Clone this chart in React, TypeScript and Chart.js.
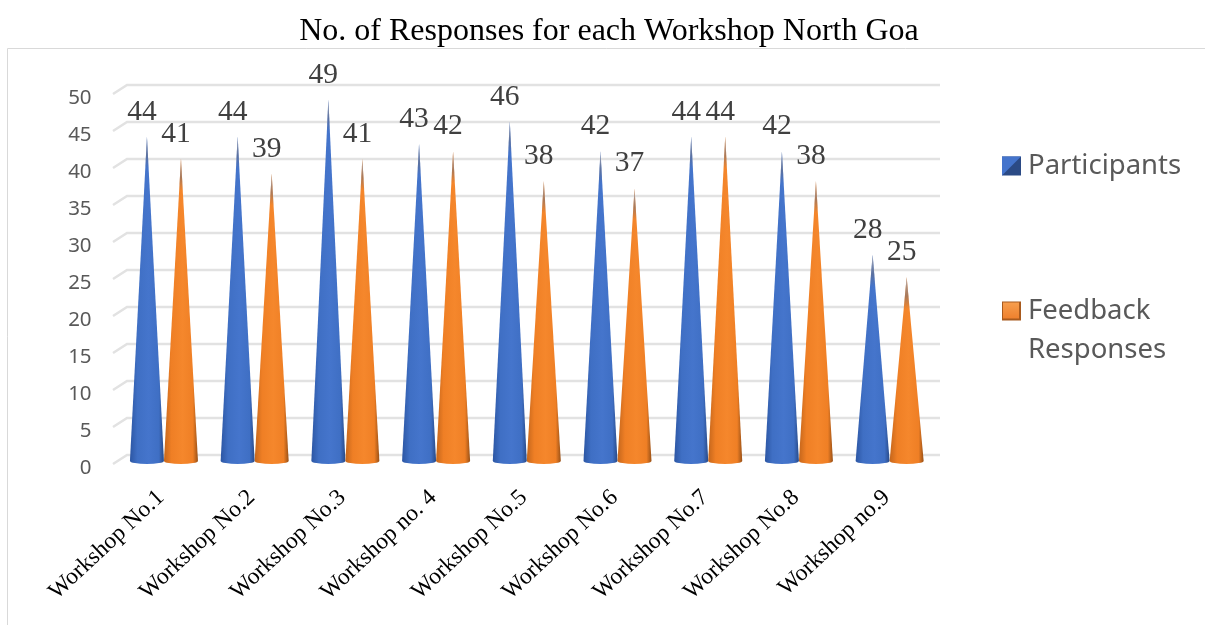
import React, { useEffect, useRef } from "react";
import { Chart, registerables } from "chart.js";

Chart.register(...registerables);

const categories = [
  "Workshop No.1", "Workshop No.2", "Workshop No.3", "Workshop no. 4", "Workshop No.5",
  "Workshop No.6", "Workshop No.7", "Workshop No.8", "Workshop no.9",
];
const participants = [44, 44, 49, 43, 46, 42, 44, 42, 28];
const feedbackResponses = [41, 39, 41, 42, 38, 37, 44, 38, 25];
const seriesNames = ["Participants", "Feedback Responses"];
const legendLines = [["Participants"], ["Feedback", "Responses"]];
const titleText = "No. of Responses for each Workshop North Goa";

const serif = "'Liberation Serif', 'Times New Roman', serif";
const sans = "'Noto Sans', 'Open Sans', sans-serif";

const palette = [
  { edgeL: "#2c56a3", mid: "#3f6fc4", light: "#4575cc", edgeR: "#284a88" },
  { edgeL: "#c4661c", mid: "#ef7f25", light: "#f5872c", edgeR: "#985016" },
];

const conePlugin = {
  id: "cones",
  beforeDatasetsDraw(chart: any) {
    const { ctx, scales } = chart;
    const yScale = scales.y;
    const leftFront = 113;
    const leftBack = 127;
    const right = 940;
    const depth = 7;
    ctx.save();
    ctx.strokeStyle = "#e2e2e2";
    ctx.lineWidth = 2.5;
    yScale.ticks.forEach((_: any, i: number) => {
      const py = yScale.getPixelForTick(i);
      ctx.beginPath();
      ctx.moveTo(leftFront, py + 2);
      ctx.lineTo(leftBack, py - depth);
      ctx.lineTo(right, py - depth);
      ctx.stroke();
    });
    ctx.restore();
  },
  afterDatasetsDraw(chart: any) {
    const { ctx } = chart;
    chart.data.datasets.forEach((ds: any, di: number) => {
      const meta = chart.getDatasetMeta(di);
      const c = palette[di];
      meta.data.forEach((bar: any, i: number) => {
        const half = bar.width / 2;
        const x = bar.x;
        const tip = bar.y;
        const base = bar.base;
        const ry = 3;
        ctx.save();
        ctx.beginPath();
        ctx.moveTo(x, tip);
        ctx.lineTo(x + half, base - 1);
        ctx.ellipse(x, base - 1, half, ry, 0, 0, Math.PI);
        ctx.lineTo(x, tip);
        ctx.closePath();
        const g = ctx.createLinearGradient(x - half, 0, x + half, 0);
        g.addColorStop(0, c.edgeL);
        g.addColorStop(0.22, c.mid);
        g.addColorStop(0.55, c.light);
        g.addColorStop(0.85, c.mid);
        g.addColorStop(1, c.edgeR);
        ctx.fillStyle = g;
        ctx.fill();
        ctx.clip();
        const t = ctx.createLinearGradient(0, tip, 0, tip + 32);
        t.addColorStop(0, "rgba(190,190,195,0.95)");
        t.addColorStop(0.6, "rgba(110,110,125,0.55)");
        t.addColorStop(1, "rgba(110,110,125,0)");
        ctx.fillStyle = t;
        ctx.fillRect(x - half, tip, half * 2, 32);
        ctx.restore();

        ctx.save();
        ctx.font = `29.5px ${serif}`;
        ctx.fillStyle = "#404040";
        ctx.textAlign = "center";
        ctx.textBaseline = "middle";
        ctx.fillText(String(ds.data[i]), x - 5, tip - 24.5);
        ctx.restore();
      });
    });
  },
  afterDraw(chart: any) {
    const { ctx } = chart;
    ctx.save();
    ctx.strokeStyle = "#d9d9d9";
    ctx.lineWidth = 1;
    ctx.beginPath();
    ctx.moveTo(7.5, 625);
    ctx.lineTo(7.5, 48.5);
    ctx.lineTo(1205, 48.5);
    ctx.stroke();

    const swatches = [166, 311];
    ctx.font = `27.5px ${sans}`;
    ctx.textBaseline = "middle";
    ctx.textAlign = "left";
    legendLines.forEach((lines, i) => {
      const yc = swatches[i];
      const x0 = 1002;
      const s = 19;
      const y0 = yc - s / 2;
      if (i === 0) {
        ctx.fillStyle = "#2b4a85";
        ctx.fillRect(x0, y0, s, s);
        ctx.fillStyle = "#4474cc";
        ctx.beginPath();
        ctx.moveTo(x0, y0);
        ctx.lineTo(x0 + s, y0);
        ctx.lineTo(x0, y0 + s);
        ctx.closePath();
        ctx.fill();
      } else {
        ctx.fillStyle = "#a85a1e";
        ctx.fillRect(x0, y0, s, s);
        const g = ctx.createLinearGradient(0, y0, 0, y0 + s);
        g.addColorStop(0, "#f7a050");
        g.addColorStop(1, "#ee7d2a");
        ctx.fillStyle = g;
        ctx.fillRect(x0 + 1, y0 + 1, s - 3, s - 3);
      }
      ctx.fillStyle = "#595959";
      lines.forEach((line, j) => {
        ctx.fillText(line, 1028, yc + 0.5 + j * 38.5);
      });
    });
    ctx.restore();
  },
};

export default function App() {
  const ref = useRef<HTMLCanvasElement | null>(null);
  useEffect(() => {
    const chart = new Chart(ref.current as HTMLCanvasElement, {
      type: "bar",
      data: {
        labels: categories,
        datasets: [
          { label: seriesNames[0], data: participants, backgroundColor: "rgba(0,0,0,0)" },
          { label: seriesNames[1], data: feedbackResponses, backgroundColor: "rgba(0,0,0,0)" },
        ],
      },
      options: {
        responsive: false,
        animation: false,
        layout: { padding: { left: 13, right: 0, top: 0, bottom: 0 } },
        datasets: { bar: { categoryPercentage: 0.75, barPercentage: 1 } },
        plugins: {
          legend: { display: false },
          tooltip: { enabled: false },
          title: {
            display: true,
            text: titleText,
            color: "#000000",
            font: { family: serif, size: 32, weight: "normal", lineHeight: 1.2 },
            padding: { top: 12, bottom: 41.6 },
          },
        },
        scales: {
          x: {
            grid: { display: false, drawTicks: false },
            border: { display: false },
            ticks: {
              color: "#000000",
              font: { family: serif, size: 23.5 },
              minRotation: 43,
              maxRotation: 43,
              autoSkip: false,
              padding: 22,
              labelOffset: -3,
            },
            afterFit: (s: any) => { s.height = 163; },
          },
          y: {
            min: 0,
            max: 50,
            grid: { display: false, drawTicks: false },
            border: { display: false },
            ticks: {
              stepSize: 5,
              color: "#595959",
              font: { family: sans, size: 20.5 },
              padding: 27,
              labelOffset: 6,
            },
            afterFit: (s: any) => { s.width = 105.6; },
          },
          legendGutter: {
            position: "right",
            min: 0,
            max: 50,
            grid: { display: false, drawTicks: false },
            border: { display: false },
            ticks: { display: false },
            afterFit: (s: any) => { s.width = 270; },
          },
        },
      },
      plugins: [conePlugin],
    } as any);
    return () => chart.destroy();
  }, []);
  return (
    <div style={{ position: "absolute", left: 0, top: 0, width: 1205, height: 625, background: "#fff" }}>
      <canvas ref={ref} width={1205} height={625} style={{ display: "block" }} />
    </div>
  );
}
